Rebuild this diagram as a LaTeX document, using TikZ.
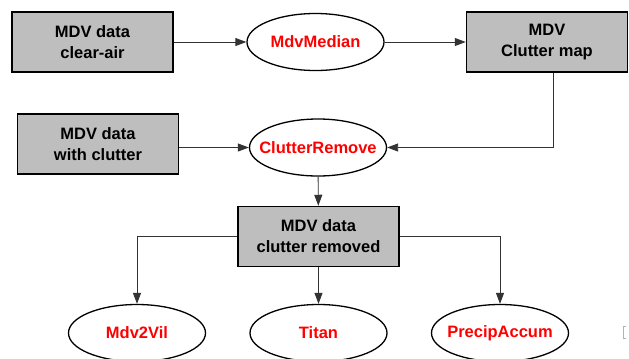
\documentclass[tikz,border=0pt]{standalone}
\usepackage{fontspec}
\setmainfont{Liberation Sans}
\usetikzlibrary{shapes.geometric,arrows.meta}
\definecolor{boxgray}{RGB}{190,190,190}
\begin{document}
\begin{tikzpicture}[x=1bp, y=-1bp,
  databox/.style={rectangle, draw, fill=boxgray, line width=1.5bp, minimum width=161bp,
    minimum height=60bp, align=center, inner sep=0pt,
    font=\fontsize{16.5bp}{21bp}\selectfont\bfseries},
  prog/.style={ellipse, draw, line width=1.3bp, minimum width=137bp, minimum height=57bp,
    inner xsep=-11bp, inner ysep=0pt, text=red,
    font=\fontsize{16.5bp}{21bp}\selectfont\bfseries},
  flow/.style={draw=black!80, line width=0.9bp, -{Triangle[length=11bp,width=8bp]}}]
  \useasboundingbox (0,0) rectangle (629,358);
  % inputs
  \node[databox] (clear) at (92.5,42) {MDV data\\clear-air};
  \node[prog] (median) at (315.5,42) {MdvMedian};
  \node[databox] (map) at (547,42) {MDV\\Clutter map};
  \node[databox] (clutter) at (98,144) {MDV data\\with clutter};
  \node[prog] (cremove) at (318,147.5) {ClutterRemove};
  % output and its users
  \node[databox] (removed) at (318.5,236.5) {MDV data\\clutter removed};
  \node[prog] (vil) at (137,333) {Mdv2Vil};
  \node[prog] (titan) at (318.5,333) {Titan};
  \node[prog] (accum) at (500,333) {PrecipAccum};
  \draw[flow] (clear) -- (median);
  \draw[flow] (median) -- (map);
  \draw[flow] (clutter.east |- cremove.west) -- (cremove.west);
  \draw[flow] ([xshift=6bp]map.south) |- (cremove.east);
  \draw[flow] (cremove) -- (removed);
  \draw[flow] (removed.west) -| (vil);
  \draw[flow] (removed) -- (titan);
  \draw[flow] (removed.east) -| (accum);
  \draw[black!30, line width=0.8bp] (626,326) -- (623,326) -- (623,338) -- (626,338);
\end{tikzpicture}
\end{document}
